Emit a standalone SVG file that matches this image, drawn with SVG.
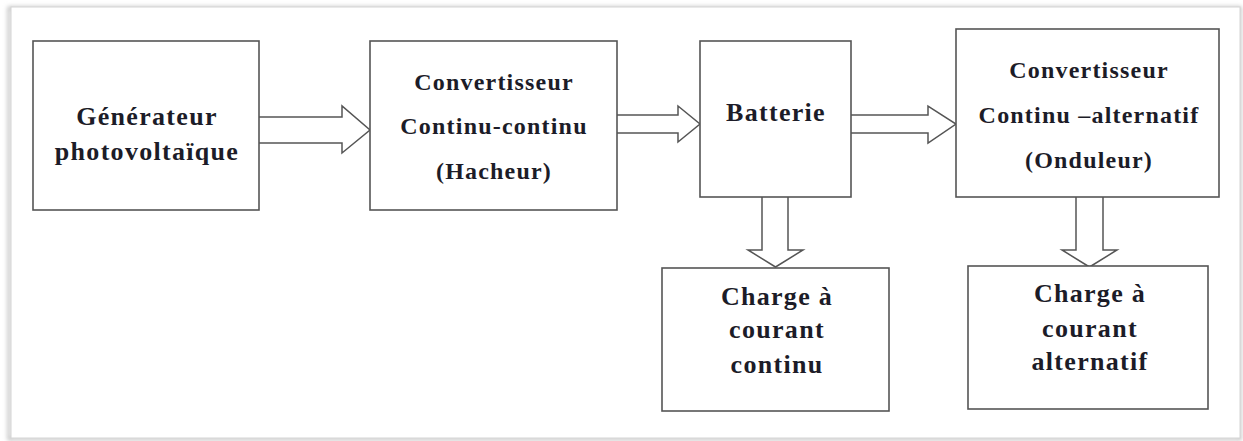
<svg xmlns="http://www.w3.org/2000/svg" width="1243" height="441" viewBox="0 0 1243 441">
<defs>
<style>
.box{fill:#fff;stroke:#555;stroke-width:1.6}
.arr{fill:#fff;stroke:#555;stroke-width:1.5;stroke-linejoin:miter}
.t{font-family:"Liberation Serif","Times New Roman",serif;font-weight:bold;fill:#1c1c28;text-anchor:middle}
.s24{font-size:24px;letter-spacing:1.2px}
.s26{font-size:26px;letter-spacing:1.3px}
</style>
<filter id="sh" x="-5%" y="-5%" width="110%" height="110%">
<feGaussianBlur stdDeviation="2"/>
</filter>
</defs>
<rect width="1243" height="441" fill="#fff"/>
<g id="frame">
<rect x="9" y="8" width="1231" height="431" fill="none" stroke="#bdbdbd" stroke-width="3" filter="url(#sh)"/>
<rect x="11" y="7" width="1229" height="431" fill="#fff" stroke="#d4d4d4" stroke-width="1"/>
</g>
<g id="connectors">
<path class="arr" d="M259,117 H342 V106 L370,130 L342,153 V143 H259"/>
<path class="arr" d="M617,115 H678 V106 L700,124 L678,142 V133 H617"/>
<path class="arr" d="M851,115 H928 V106 L956,124 L928,143 V133 H851"/>
<path class="arr" d="M762,197 V250 H748 L775.5,267 L803,250 H788 V197"/>
<path class="arr" d="M1076,197 V250 H1062 L1089.5,267 L1117,250 H1103 V197"/>
</g>
<g id="generateur">
<rect class="box" x="33" y="41" width="226" height="169"/>
<text class="t s26" x="147" y="125">Générateur</text>
<text class="t s26" x="147" y="160">photovoltaïque</text>
</g>
<g id="hacheur">
<rect class="box" x="370" y="41" width="247" height="169"/>
<text class="t s24" x="494" y="90">Convertisseur</text>
<text class="t s24" x="494" y="134">Continu-continu</text>
<text class="t s24" x="494" y="179">(Hacheur)</text>
</g>
<g id="batterie">
<rect class="box" x="700" y="41" width="151" height="156"/>
<text class="t s26" x="776" y="121">Batterie</text>
</g>
<g id="onduleur">
<rect class="box" x="956" y="29" width="263" height="168"/>
<text class="t s24" x="1089" y="78">Convertisseur</text>
<text class="t s24" x="1089" y="123">Continu –alternatif</text>
<text class="t s24" x="1089" y="168">(Onduleur)</text>
</g>
<g id="charge-continu">
<rect class="box" x="662" y="268" width="227" height="143"/>
<text class="t s26" x="777" y="305">Charge à</text>
<text class="t s26" x="777" y="338">courant</text>
<text class="t s26" x="777" y="373">continu</text>
</g>
<g id="charge-alternatif">
<rect class="box" x="968" y="266" width="240" height="143"/>
<text class="t s26" x="1090" y="302">Charge à</text>
<text class="t s26" x="1090" y="337">courant</text>
<text class="t s26" x="1090" y="370">alternatif</text>
</g>
</svg>
